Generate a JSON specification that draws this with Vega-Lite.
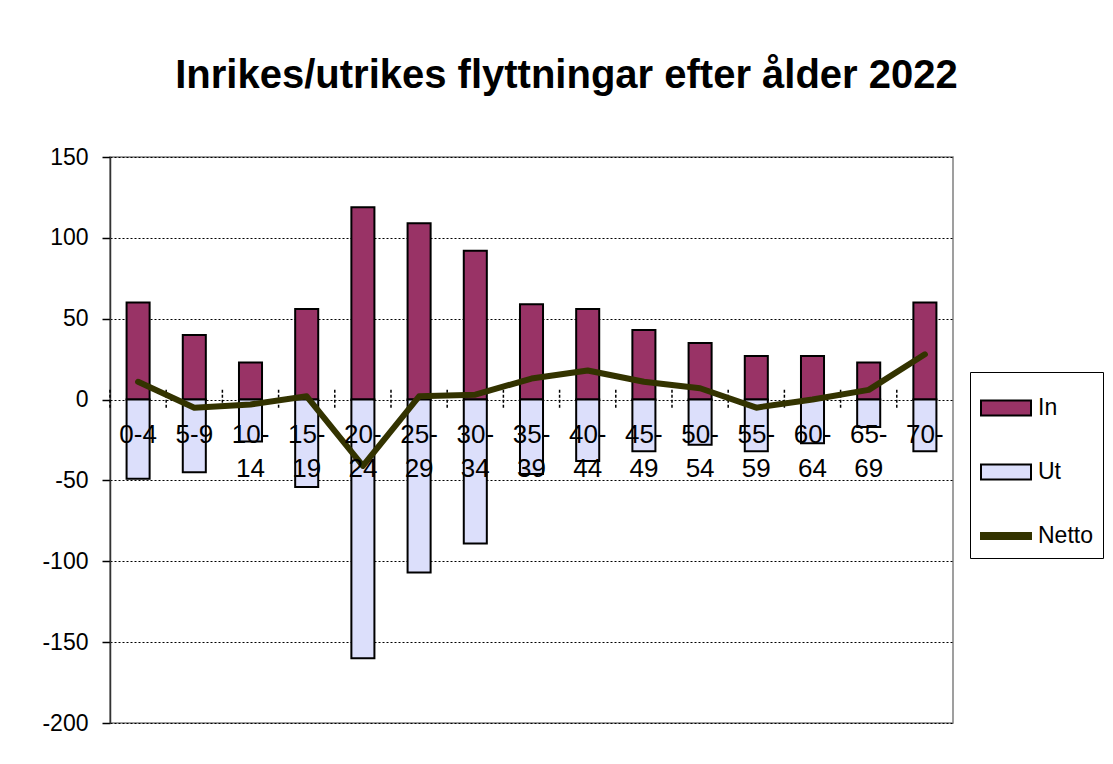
{
  "$schema": "https://vega.github.io/schema/vega-lite/v6.json",
  "autosize": {"type": "none"},
  "width": 843,
  "height": 566,
  "padding": {"left": 110, "top": 157, "right": 160, "bottom": 41},
  "background": "white",
  "config": {
    "font": "Liberation Sans",
    "view": {"stroke": "#808080", "strokeWidth": 1.5}
  },
  "title": {
    "text": "Inrikes/utrikes flyttningar efter ålder 2022",
    "fontSize": 40,
    "fontWeight": "bold",
    "color": "black",
    "anchor": "middle",
    "dx": 35,
    "offset": 50
  },
  "data": {
    "values": [
      {"age": "0-4", "serie": "In", "value": 60},
      {"age": "0-4", "serie": "Ut", "value": -49},
      {"age": "0-4", "serie": "Netto", "value": 11},
      {"age": "5-9", "serie": "In", "value": 40},
      {"age": "5-9", "serie": "Ut", "value": -45},
      {"age": "5-9", "serie": "Netto", "value": -5},
      {"age": "10-14", "serie": "In", "value": 23},
      {"age": "10-14", "serie": "Ut", "value": -26},
      {"age": "10-14", "serie": "Netto", "value": -3},
      {"age": "15-19", "serie": "In", "value": 56},
      {"age": "15-19", "serie": "Ut", "value": -54},
      {"age": "15-19", "serie": "Netto", "value": 2},
      {"age": "20-24", "serie": "In", "value": 119},
      {"age": "20-24", "serie": "Ut", "value": -160},
      {"age": "20-24", "serie": "Netto", "value": -41},
      {"age": "25-29", "serie": "In", "value": 109},
      {"age": "25-29", "serie": "Ut", "value": -107},
      {"age": "25-29", "serie": "Netto", "value": 2},
      {"age": "30-34", "serie": "In", "value": 92},
      {"age": "30-34", "serie": "Ut", "value": -89},
      {"age": "30-34", "serie": "Netto", "value": 3},
      {"age": "35-39", "serie": "In", "value": 59},
      {"age": "35-39", "serie": "Ut", "value": -46},
      {"age": "35-39", "serie": "Netto", "value": 13},
      {"age": "40-44", "serie": "In", "value": 56},
      {"age": "40-44", "serie": "Ut", "value": -38},
      {"age": "40-44", "serie": "Netto", "value": 18},
      {"age": "45-49", "serie": "In", "value": 43},
      {"age": "45-49", "serie": "Ut", "value": -32},
      {"age": "45-49", "serie": "Netto", "value": 11},
      {"age": "50-54", "serie": "In", "value": 35},
      {"age": "50-54", "serie": "Ut", "value": -28},
      {"age": "50-54", "serie": "Netto", "value": 7},
      {"age": "55-59", "serie": "In", "value": 27},
      {"age": "55-59", "serie": "Ut", "value": -32},
      {"age": "55-59", "serie": "Netto", "value": -5},
      {"age": "60-64", "serie": "In", "value": 27},
      {"age": "60-64", "serie": "Ut", "value": -27},
      {"age": "60-64", "serie": "Netto", "value": 0},
      {"age": "65-69", "serie": "In", "value": 23},
      {"age": "65-69", "serie": "Ut", "value": -17},
      {"age": "65-69", "serie": "Netto", "value": 6},
      {"age": "70-", "serie": "In", "value": 60},
      {"age": "70-", "serie": "Ut", "value": -32},
      {"age": "70-", "serie": "Netto", "value": 28}
    ]
  },
  "encoding": {
    "x": {
      "field": "age",
      "type": "nominal",
      "sort": null,
      "scale": {"paddingInner": 0.59, "paddingOuter": 0.295},
      "axis": {
        "title": null,
        "orient": "bottom",
        "offset": -323,
        "domain": false,
        "grid": false,
        "ticks": false,
        "labelAngle": 0,
        "labelFontSize": 26,
        "labelColor": "black",
        "labelPadding": 21,
        "labelLineHeight": 34,
        "labelOverlap": false,
        "labelBound": false,
        "labelFlush": false,
        "labelExpr": "length(datum.label) > 3 ? [substring(datum.label, 0, 3), substring(datum.label, 3)] : datum.label",
        "zindex": 1
      }
    },
    "y": {
      "field": "value",
      "type": "quantitative",
      "scale": {"domain": [-200, 150], "nice": false, "zero": false},
      "axis": {
        "title": null,
        "values": [-200, -150, -100, -50, 0, 50, 100, 150],
        "labelExpr": "'' + datum.value",
        "grid": true,
        "gridColor": "black",
        "gridWidth": 1,
        "gridDash": [2, 2],
        "domainColor": "#333333",
        "domainWidth": 1.5,
        "tickColor": "black",
        "tickSize": 8,
        "tickWidth": 1.5,
        "labelFontSize": 23,
        "labelColor": "black",
        "labelPadding": 14,
        "zindex": 0
      }
    }
  },
  "layer": [
    {
      "transform": [{"filter": "datum.serie !== 'Netto'"}],
      "mark": {"type": "bar", "stroke": "black", "strokeWidth": 2, "fillOpacity": 1},
      "encoding": {
        "y": {"field": "value", "type": "quantitative", "stack": null},
        "color": {
          "field": "serie",
          "type": "nominal",
          "scale": {"domain": ["In", "Ut", "Netto"], "range": ["#993366", "#dcdffb", "#333300"]},
          "legend": {
            "title": null,
            "orient": "none",
            "legendX": 860,
            "legendY": 215,
            "strokeColor": "black",
            "padding": 10,
            "symbolSize": 2500,
            "symbolType": "M-1,-0.3L1,-0.3L1,0.3L-1,0.3Z",
            "symbolStrokeColor": "black",
            "symbolStrokeWidth": 2,
            "labelFontSize": 23,
            "labelColor": "black",
            "labelOffset": 6,
            "rowPadding": 26,
            "encode": {
              "symbols": {
                "update": {
                  "shape": {"signal": "datum.value === 'Netto' ? 'M-1,-0.12L1,-0.12L1,0.12L-1,0.12Z' : 'M-1,-0.3L1,-0.3L1,0.3L-1,0.3Z'"},
                  "stroke": {"signal": "datum.value === 'Netto' ? '#333300' : '#000000'"},
                  "strokeWidth": {"value": 2}
                }
              }
            }
          }
        }
      }
    },
    {
      "transform": [{"filter": "datum.serie === 'Netto'"}],
      "mark": {"type": "rule", "color": "black", "strokeWidth": 1.5, "strokeDash": [3, 2]},
      "encoding": {
        "x": {"field": "age", "type": "nominal", "sort": null, "bandPosition": -0.72},
        "y": {"datum": 6},
        "y2": {"datum": -5.5}
      }
    },
    {
      "transform": [{"filter": "datum.serie === 'Netto'"}],
      "mark": {"type": "line", "color": "#333300", "strokeWidth": 6, "strokeCap": "round", "strokeJoin": "round"},
      "encoding": {
        "y": {"field": "value", "type": "quantitative"}
      }
    }
  ]
}
